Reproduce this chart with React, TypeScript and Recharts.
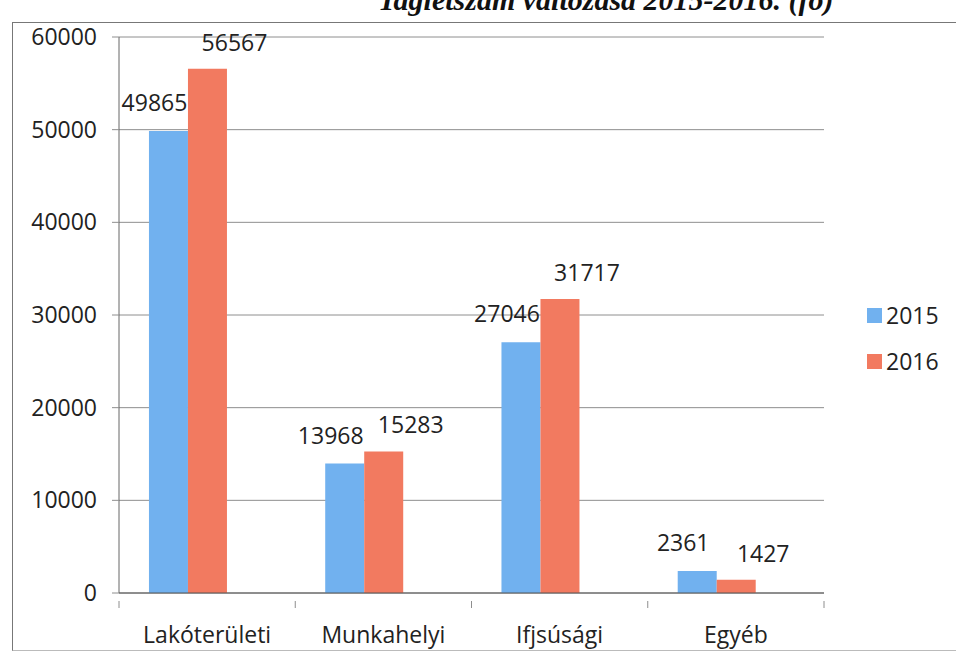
import { Bar, BarChart, CartesianGrid, LabelList, XAxis, YAxis } from "recharts";

const categories = ["Lakóterületi", "Munkahelyi", "Ifjsúsági", "Egyéb"];
const values2015 = [49865, 13968, 27046, 2361];
const values2016 = [56567, 15283, 31717, 1427];
const yTicks = [0, 10000, 20000, 30000, 40000, 50000, 60000];
const seriesNames = ["2015", "2016"];
const title = "Taglétszám változása 2015-2016. (fő)";

const BLUE = "#71b1ef";
const RED = "#f27a60";
const GRID = "#8e8e8e";
const FONT = "'Open Sans', sans-serif";

const chartData = categories.map((name, i) => ({
  name,
  y2015: values2015[i],
  y2016: values2016[i],
}));

function CategoryTick(props: any) {
  const { x, y, payload, index } = props;
  const half = payload?.offset ?? 88;
  const last = index === categories.length - 1;
  return (
    <g>
      <line x1={x - half} y1={y} x2={x - half} y2={y + 7} stroke={GRID} />
      {last && <line x1={x + half} y1={y} x2={x + half} y2={y + 7} stroke={GRID} />}
      <text x={x} y={y + 42} textAnchor="middle" fill="#222" fontSize={23} fontFamily={FONT}>
        {payload.value}
      </text>
    </g>
  );
}

const valueLabel = (dx: number, lift: number) => (props: any) => {
  const { x, y, width, value } = props;
  return (
    <text
      x={Number(x) + Number(width) / 2 + dx}
      y={Number(y) - lift}
      textAnchor="middle"
      fill="#222"
      fontSize={23}
      fontFamily={FONT}
    >
      {value}
    </text>
  );
};

export default function App() {
  return (
    <div style={{ position: "relative", width: 956, height: 656, overflow: "hidden", background: "#fff" }}>
      <style>{"body{margin:0}"}</style>
      <svg width={956} height={30} style={{ position: "absolute", left: 0, top: 0 }}>
        <text
          x={378}
          y={10}
          fill="#111"
          fontSize={30}
          fontWeight="bold"
          fontStyle="italic"
          fontFamily="'Liberation Serif', serif"
        >
          {title}
        </text>
      </svg>
      {/* frame of the scanned chart */}
      <div style={{ position: "absolute", left: 12, top: 22, width: 944, height: 627, borderTop: "1px solid #777", borderLeft: "1px solid #777", borderBottom: "1px solid #bbb" }} />

      <div style={{ position: "absolute", left: 0, top: 0 }}>
        <BarChart
          width={956}
          height={656}
          data={chartData}
          margin={{ top: 37, right: 132, bottom: 13, left: 12 }}
          barCategoryGap="17%"
          barGap={0}
        >
          <CartesianGrid stroke={GRID} vertical={false} />
          <XAxis
            dataKey="name"
            height={50}
            axisLine={{ stroke: "#555" }}
            tickLine={false}
            tick={<CategoryTick />}
            interval={0}
          />
          <YAxis
            width={107}
            domain={[0, 60000]}
            ticks={yTicks}
            interval={0}
            axisLine={{ stroke: "#666" }}
            tickLine={{ stroke: GRID }}
            tickSize={7}
            tickMargin={15}
            tick={{ fill: "#222", fontSize: 23, fontFamily: FONT }}
          />
          <Bar dataKey="y2015" name={seriesNames[0]} fill={BLUE} isAnimationActive={false}>
            <LabelList dataKey="y2015" content={valueLabel(-14, 20)} />
          </Bar>
          <Bar dataKey="y2016" name={seriesNames[1]} fill={RED} isAnimationActive={false}>
            <LabelList dataKey="y2016" content={valueLabel(27, 18)} />
          </Bar>
          {/* empty slot, keeps the bar pair left of the category centre */}
          <Bar dataKey="spacer" fill="none" legendType="none" isAnimationActive={false} />
        </BarChart>
      </div>

      {seriesNames.map((s, i) => (
        <div
          key={s}
          style={{
            position: "absolute",
            left: 867,
            top: 299 + i * 46,
            display: "flex",
            alignItems: "center",
            fontFamily: FONT,
            fontSize: 23,
            color: "#222",
          }}
        >
          <span style={{ width: 15, height: 15, background: i === 0 ? BLUE : RED, marginRight: 4 }} />
          {s}
        </div>
      ))}
    </div>
  );
}
